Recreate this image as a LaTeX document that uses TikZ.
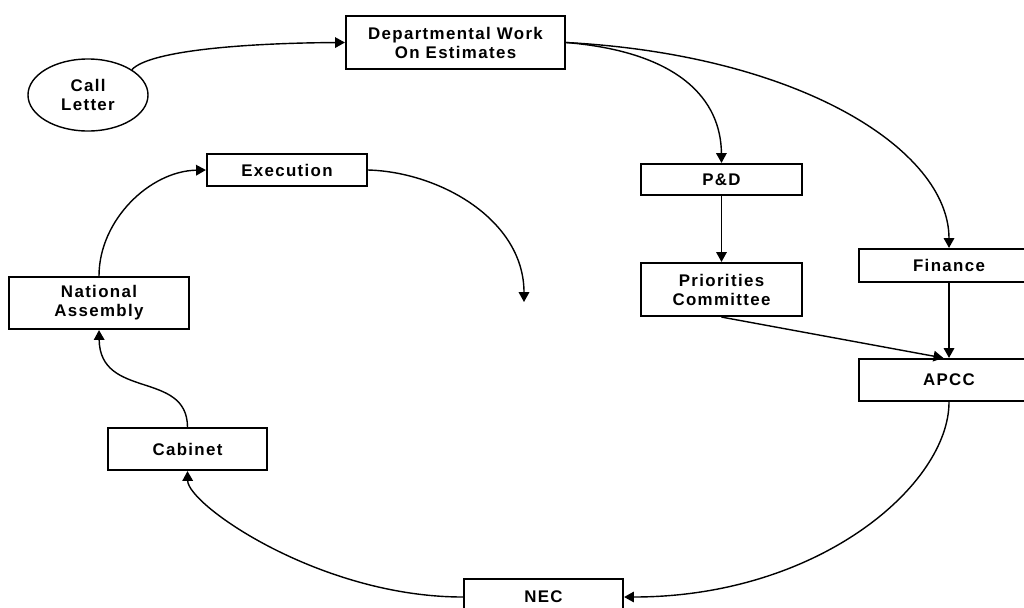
\documentclass[tikz,border=0pt]{standalone}
\usepackage{fontspec}
\setmainfont{Liberation Sans}[LetterSpace=8]
\usetikzlibrary{shapes.geometric,arrows.meta}

\begin{document}
\begin{tikzpicture}[x=0.025cm,y=-0.025cm,
  box/.style={draw,line width=1.5pt,inner sep=0pt,align=center,
    font=\fontsize{12}{13.5}\selectfont\bfseries},
  arr/.style={line width=1pt,-{Triangle[length=7pt,width=7.5pt]}}]
\useasboundingbox (0,0) rectangle (1024,607);

%top row
\node[box,ellipse,line width=1pt,minimum width=3cm,minimum height=1.8cm] (letter) at (88,95) {Call\\Letter};
\node[box,minimum width=5.475cm,minimum height=1.325cm] (dept) at (455.5,42.5) {Departmental Work\\On Estimates};
\node[box,minimum width=4cm,minimum height=0.8cm] (exec) at (287,170) {Execution};
%right column
\node[box,minimum width=4.025cm,minimum height=0.775cm] (pd) at (721.5,179.5) {P\&D};
\node[box,minimum width=4.025cm,minimum height=1.325cm] (prio) at (721.5,289.5) {Priorities\\Committee};
\node[box,minimum width=4.5cm,minimum height=0.825cm] (fin) at (949,265.5) {Finance};
\node[box,minimum width=4.5cm,minimum height=1.05cm] (apcc) at (949,380) {APCC};
%left and bottom
\node[box,minimum width=4.5cm,minimum height=1.3cm] (na) at (99,303) {National\\Assembly};
\node[box,minimum width=3.975cm,minimum height=1.05cm] (cab) at (187.5,449) {Cabinet};
\node[box,minimum width=3.975cm,minimum height=0.9cm] (nec) at (543.5,597) {NEC};
\coordinate (drop) at (524,302);

%connectors
\draw[arr] (letter.30) .. controls (150,50) and (250,43) .. (dept.west);
\draw[arr] (dept.east) .. controls (680,52) and (721,100) .. (pd.north);
\draw[arr] (dept.east) .. controls (800,55) and (949,150) .. (fin.north);
\draw[arr] (pd) -- (prio);
\draw[arr] (fin) -- (apcc);
\draw[arr] (prio.south) -- ([xshift=-4pt]apcc.north);
\draw[arr] (apcc.south) .. controls (949,484) and (820,597) .. (nec.east);
\draw[arr] (nec.west) .. controls (320,597) and (188,505) .. (cab.south);
\draw[arr] (cab.north) .. controls (187,370) and (100,400) .. (na.south);
\draw[arr] (na.north) .. controls (99,220) and (150,171) .. (exec.west);
\draw[arr] (exec.east) .. controls (440,172) and (524,220) .. (drop);
\end{tikzpicture}
\end{document}
